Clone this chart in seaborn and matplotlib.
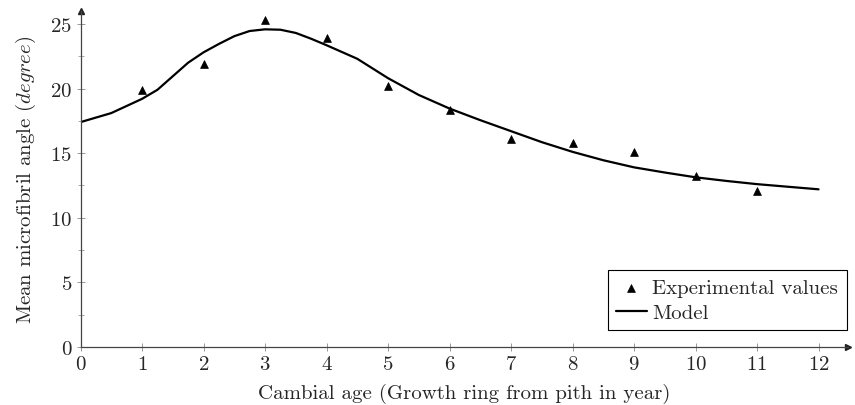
import matplotlib
matplotlib.use("Agg")
import matplotlib.pyplot as plt
import seaborn as sns
import pandas as pd

# experimental points
age = [1, 2, 3, 4, 5, 6, 7, 8, 9, 10, 11]
mfa = [19.9, 21.9, 25.3, 23.9, 20.2, 18.3, 16.1, 15.8, 15.05, 13.2, 12.05]

# model curve
model_age = [0, 0.5, 1, 1.25, 1.5, 1.75, 2, 2.25, 2.5, 2.75, 3, 3.25, 3.5, 3.75, 4,
             4.5, 5, 5.5, 6, 6.5, 7, 7.5, 8, 8.5, 9, 9.5, 10, 10.5, 11, 11.5, 12]
model_mfa = [17.4, 18.1, 19.2, 19.9, 20.95, 22.0, 22.8, 23.45, 24.05, 24.45, 24.58,
             24.55, 24.3, 23.85, 23.35, 22.3, 20.8, 19.5, 18.45, 17.55, 16.7, 15.85,
             15.1, 14.45, 13.9, 13.5, 13.13, 12.85, 12.6, 12.4, 12.2]

xticks = list(range(0, 13))
yticks = [0, 5, 10, 15, 20, 25]

sns.set_theme(style="ticks")
plt.rcParams["font.family"] = ["cmr10", "DejaVu Serif"]
plt.rcParams["mathtext.fontset"] = "cm"
plt.rcParams["axes.formatter.use_mathtext"] = True

exp_df = pd.DataFrame({"age": age, "mfa": mfa})
mod_df = pd.DataFrame({"age": model_age, "mfa": model_mfa})

fig = plt.figure(figsize=(8.55, 4.06), dpi=100)
ax = fig.add_axes([0.0942, 0.1429, 0.8977, 0.8276])

sns.lineplot(data=mod_df, x="age", y="mfa", ax=ax, color="black", lw=1.6,
             label="Model", zorder=2)
sns.scatterplot(data=exp_df, x="age", y="mfa", ax=ax, marker="^", color="black",
                s=32, edgecolor="black", linewidth=0.5, label="Experimental values",
                zorder=3)

ax.set_xlim(0, 12.48)
ax.set_ylim(0, 26)
ax.set_xticks(xticks)
ax.set_yticks(yticks)
ax.set_yticks([2.5, 7.5, 12.5, 17.5, 22.5], minor=True)
ax.tick_params(axis="both", which="major", direction="inout", length=6, width=0.6,
               color="#888888", labelsize=15, pad=3)
ax.tick_params(axis="y", which="minor", direction="inout", length=4, width=0.5,
               color="#888888")

for s in ["top", "right"]:
    ax.spines[s].set_visible(False)
for s in ["left", "bottom"]:
    ax.spines[s].set_color("#444444")
    ax.spines[s].set_linewidth(0.9)

# arrow heads at the ends of the axis lines
ax.plot(1, 0, ">", color="#222222", ms=4, transform=ax.transAxes, clip_on=False)
ax.plot(0, 1, "^", color="#222222", ms=4, transform=ax.transAxes, clip_on=False)

ax.set_xlabel("Cambial age (Growth ring from pith in year)", fontsize=15, labelpad=7)
ax.set_ylabel("Mean microfibril angle ($degree$)", fontsize=15, labelpad=9)

handles, labels = ax.get_legend_handles_labels()
order = [labels.index("Experimental values"), labels.index("Model")]
leg = ax.legend([handles[i] for i in order], [labels[i] for i in order],
                loc="lower right", bbox_to_anchor=(0.998, 0.05), fontsize=15,
                frameon=True, fancybox=False, framealpha=1, edgecolor="black",
                handlelength=1.5, handletextpad=0.25, borderpad=0.4,
                labelspacing=0.3, borderaxespad=0)
leg.get_frame().set_linewidth(0.8)

plt.savefig("out.png", dpi=100)
plt.close()
